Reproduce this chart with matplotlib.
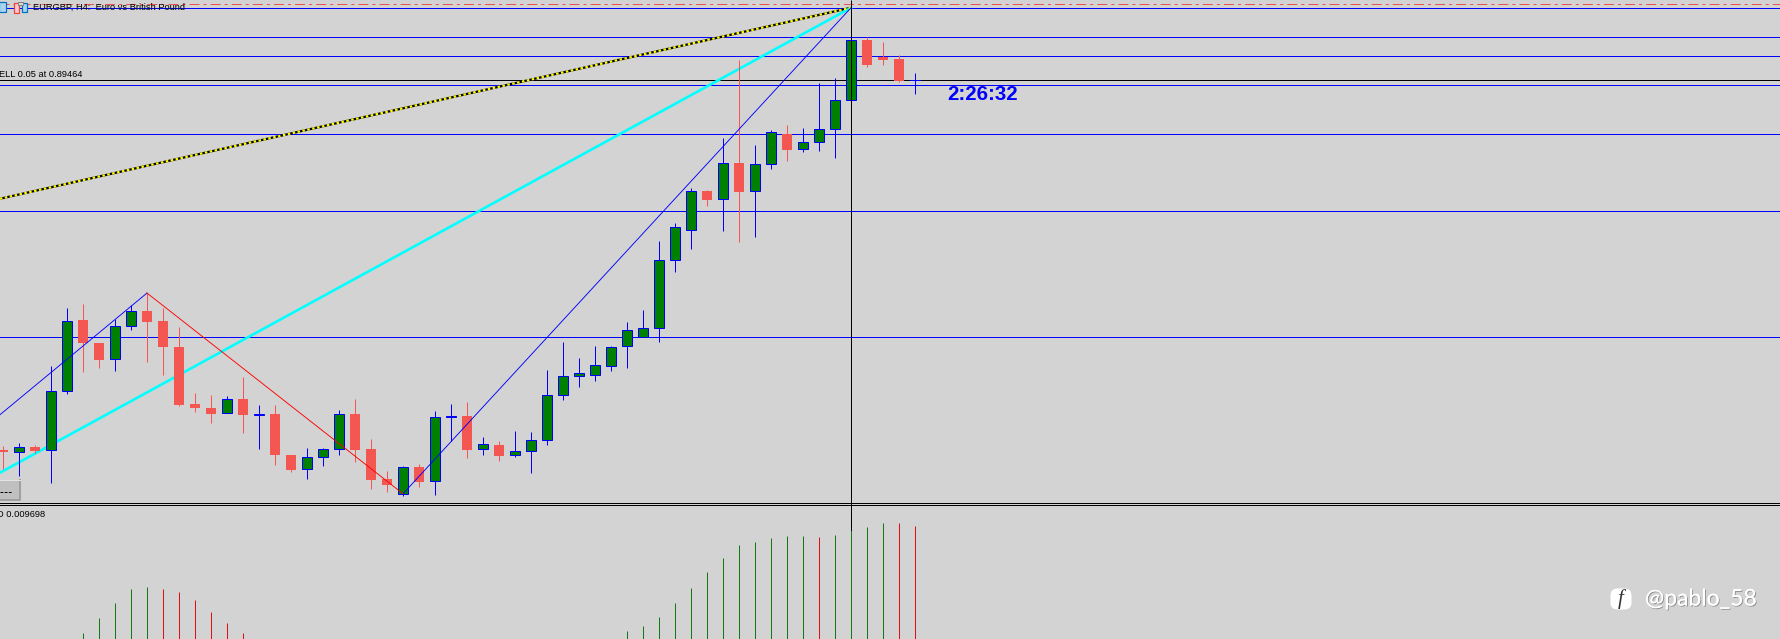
import matplotlib
matplotlib.use("Agg")
import matplotlib.pyplot as plt
import matplotlib.patheffects as pe
from matplotlib.patches import Rectangle, FancyBboxPatch

plt.rcParams["lines.scale_dashes"] = False

# Candle values, in chart units (row of the screen scale)
body_top = [450, 447.3, 447, 391.3, 321.3, 320, 343, 326.3, 311.3, 311, 321, 347, 404, 408, 399.3,
            399, 414.3, 414, 455, 457.3, 449.3, 414.3, 414, 449, 479, 467.3, 467, 417.3, 416, 416,
            444.3, 445, 451.3, 440.3, 395.3, 376.3, 373.3, 365.3, 347.3, 330.3, 328.3, 260.3, 227.3,
            191.3, 191, 163.3, 163, 164.3, 132.3, 134, 142.3, 129.3, 100.3, 40.3, 40, 57, 59, 80]
body_bot = [452, 452.3, 451, 450.3, 391.3, 343.7, 360.7, 359.3, 326.3, 322.7, 347.7, 405, 408, 414, 413.3,
            415.7, 415.7, 455.7, 470, 469.3, 457.3, 449.3, 450, 480, 485, 494.3, 482, 481.3, 417.7, 450,
            449.3, 456, 455.7, 451.3, 440.3, 395.3, 376.7, 375.3, 366.7, 346.3, 337.3, 328.3, 260.3,
            230.3, 200, 199.3, 192, 191.7, 164.3, 150, 149.7, 142.3, 129.3, 100.3, 65, 60, 81, 81]
high = [446, 443, 445, 366, 308, 304, 343, 319.3, 305.3, 293.3, 308, 327, 393, 395, 396,
        377, 405, 405, 455, 448, 448, 410, 399, 439, 471, 466, 464, 411, 404, 402,
        437, 441, 431, 432, 370, 342, 358, 346, 346, 322, 310, 241, 223,
        188, 190, 138, 60, 145, 130, 125, 128, 83, 78, 40, 37, 42, 55, 73]
low = [469, 476, 453, 483.7, 394, 372.7, 368, 371.7, 330.7, 362.7, 375.7, 406, 412, 423, 413.3,
       433, 449, 465, 472, 479, 466, 455, 462, 489, 492, 496, 487, 495, 441, 458,
       455, 461, 457, 473, 445, 400, 387, 381, 371.7, 368, 337.3, 342, 272,
       249, 206, 231, 242, 237, 169, 161, 152, 151, 158, 100, 67, 65, 82, 94]
is_up = [0, 1, 0, 1, 1, 0, 0, 1, 1, 0, 0, 0, 0, 0, 1,
         0, 1, 0, 0, 1, 1, 1, 0, 0, 0, 1, 0, 1, 1, 0,
         1, 0, 1, 1, 1, 1, 1, 1, 1, 1, 1, 1, 1,
         1, 0, 1, 0, 1, 1, 0, 1, 1, 1, 1, 0, 0, 0, 1]

# Indicator histogram: bar index, top value, colour flag
hist_idx = [5, 6, 7, 8, 9, 10, 11, 12, 13, 14, 15,
            39, 40, 41, 42, 43, 44, 45, 46, 47, 48, 49, 50, 51, 52, 53, 54, 55, 56, 57]
hist_top = [633, 618, 603, 589, 587, 589, 592, 600, 612, 623, 633,
            631, 626, 617, 603, 588, 572, 558, 545, 542, 538, 536, 536, 537, 535, 531, 527, 523, 523, 526]
hist_up = [1, 1, 1, 1, 1, 0, 0, 0, 0, 0, 0,
           1, 1, 1, 1, 1, 1, 1, 1, 1, 1, 1, 1, 0, 1, 1, 1, 1, 0, 0]

blue_levels = [8, 37, 56, 85, 134, 211, 337]
sell_level = 80
red_level = 4
separator_levels = [503, 505]
cross_bar = 53

zig_blue_a_x, zig_blue_a_y = [-0.19, 9], [415, 293.3]
zig_red_x, zig_red_y = [9, 25], [293.3, 494]
zig_blue_b_x, zig_blue_b_y = [25, 53], [494, 8]
cyan_x, cyan_y = [-0.19, 53], [473, 8]
gold_x, gold_y = [-0.19, 53], [199, 8]

BG = "#D3D3D3"
BLUE = "#0000FF"
GREEN = "#008000"
CANDLE_RED = "#F45652"
W, H = 1781, 639
px = 0.7199  # one screen pixel in points at dpi 100

fig = plt.figure(figsize=(W / 100, H / 100), dpi=100, facecolor=BG)
ax = fig.add_axes([0, 0, 1, 1], facecolor=BG)
ax.set_xlim(-3.0 / 16, (W - 3.0) / 16)
ax.set_ylim(H + 0.25, 0.25)
ax.axis("off")

for y in blue_levels:
    ax.axhline(y, color=BLUE, lw=px, zorder=1)
ax.axhline(sell_level, color="black", lw=px, zorder=1)
ax.plot([-1, 112], [red_level] * 2, color="#F0504C", lw=px, dashes=(7.2, 2.9, 2.2, 2.9), zorder=1)

ax.plot(gold_x, gold_y, color="black", lw=2.2 * px, zorder=2, solid_capstyle="butt")
ax.plot(gold_x, gold_y, color="#FFFF00", lw=2.2 * px, dashes=(1.8, 1.8), zorder=2.1)
ax.plot(cyan_x, cyan_y, color="#00FFFF", lw=2.6 * px, zorder=2)
ax.plot(zig_blue_a_x, zig_blue_a_y, color=BLUE, lw=0.9 * px, zorder=4)
ax.plot(zig_blue_b_x, zig_blue_b_y, color=BLUE, lw=0.9 * px, zorder=4)
ax.plot(zig_red_x, zig_red_y, color="#FF0000", lw=0.9 * px, zorder=4)

for i, (t, b, h, l, up) in enumerate(zip(body_top, body_bot, high, low, is_up)):
    if up:
        ax.plot([i, i], [h, l], color=BLUE, lw=px, zorder=2.5, solid_capstyle="butt")
        if i == 57:
            ax.plot([i - 0.34, i + 0.34], [t, t], color=BLUE, lw=px, zorder=3)
            continue
        ax.add_patch(Rectangle((i - 0.3125, t), 0.625, b - t, facecolor=GREEN, edgecolor=BLUE,
                               lw=px, zorder=3))
    else:
        ax.plot([i, i], [h, l], color=CANDLE_RED, lw=px, zorder=2.5, solid_capstyle="butt")
        ax.add_patch(Rectangle((i - 0.34, t), 0.68, b - t, facecolor=CANDLE_RED, edgecolor="none", zorder=3))

# Separator, cross-hair line
for y in separator_levels:
    ax.axhline(y, color="black", lw=px, zorder=5)
ax.plot([cross_bar, cross_bar], [0, 531], color="black", lw=px, zorder=3.5, solid_capstyle="butt")

for i, t, up in zip(hist_idx, hist_top, hist_up):
    ax.plot([i, i], [t, H + 1], color="#0F7A0F" if up else "#E01010", lw=px, zorder=3,
            solid_capstyle="butt")


def pixel_text(x, y, s, **kw):
    return fig.text(x / W, 1 - y / H, s, **kw)


small = dict(fontsize=6.7, family="Liberation Sans", color="black", va="center", ha="left", zorder=6)
pixel_text(33.5, 7.5, "EURGBP, H4:  Euro vs British Pound", **small)
pixel_text(-1, 74.5, "ELL 0.05 at 0.89464", **small)
pixel_text(-3, 514.5, "D 0.009698", **small)
pixel_text(947, 94, "2:26:32", fontsize=14.7, family="Liberation Sans", weight="bold",
           color=BLUE, va="center", ha="left", zorder=6)
wm = pixel_text(1645, 599, "@pablo_58", fontsize=16.5, family="Lato", color="white",
                va="center", ha="left", zorder=6)
wm.set_path_effects([pe.withSimplePatchShadow(offset=(0.7, -0.7), shadow_rgbFace="#666666", alpha=0.6),
                     pe.Normal()])

# Overlay in screen pixels: small icons, button, watermark badge
ov = fig.add_axes([0, 0, 1, 1], facecolor="none")
ov.set_xlim(0, W)
ov.set_ylim(H, 0)
ov.axis("off")
ov.add_patch(Rectangle((-3, 480), 22, 19, facecolor="#C0C0C0", edgecolor="none"))
ov.plot([-1, 20, 20], [499.5, 499.5, 480], color="#A0A0A0", lw=2 * px)
ov.plot([-1, 20], [480, 480], color="#E4E4E4", lw=px)
ov.plot([0, 12], [491.5, 491.5], color="black", lw=px, dashes=(2, 1))
ov.add_patch(Rectangle((-1, 2), 7, 10, facecolor="#A8D4F0", edgecolor="#0070C0", lw=px * 1.2))
ov.add_patch(Rectangle((14, 3), 5, 10, facecolor="#FFC8C8", edgecolor="#F04040", lw=px * 1.2))
ov.add_patch(Rectangle((22, 3), 5, 9, facecolor="#A8D4F0", edgecolor="#0070C0", lw=px * 1.2))
ov.add_patch(Rectangle((18, 2), 5, 3, facecolor="#D8D8D8", edgecolor="#808080", lw=px))
ov.add_patch(FancyBboxPatch((1613, 591), 16, 16, boxstyle="round,pad=2.5,rounding_size=7",
                            facecolor="white", edgecolor="none"))
ov.text(1620.5, 599, "f", fontsize=15, style="italic", color="#333333", family="Liberation Serif",
        ha="center", va="center")

fig.savefig("out.png", dpi=100, facecolor=BG)
